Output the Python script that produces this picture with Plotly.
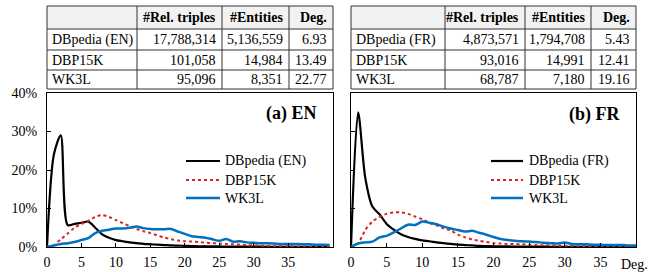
import plotly.graph_objects as go

W, H = 654, 272

# ---------- data ----------
table_header = ["", "#Rel. triples", "#Entities", "Deg."]
en_names = ["DBpedia (EN)", "DBP15K", "WK3L"]
en_triples = ["17,788,314", "101,058", "95,096"]
en_entities = ["5,136,559", "14,984", "8,351"]
en_deg = ["6.93", "13.49", "22.77"]
fr_names = ["DBpedia (FR)", "DBP15K", "WK3L"]
fr_triples = ["4,873,571", "93,016", "68,787"]
fr_entities = ["1,794,708", "14,991", "7,180"]
fr_deg = ["5.43", "12.41", "19.16"]

deg_en = list(range(0, 42))
dbpedia_en = [0, 24, 29, 5.7, 6.0, 6.3, 6.6, 5.0, 3.3, 2.4, 1.8, 1.5, 1.2, 1.0, 0.8, 0.7,
              0.6, 0.5, 0.4, 0.35, 0.3, 0.25, 0.2, 0.2, 0.15, 0.15, 0.12, 0.1, 0.1, 0.1,
              0.08, 0.08, 0.07, 0.07, 0.06, 0.06, 0.05, 0.05, 0.05, 0.05, 0.05, 0.05]
dbp15k_en = [0, 0.5, 2.0, 3.5, 5.0, 6.0, 6.8, 7.8, 8.3, 7.8, 7.0, 6.2, 5.4, 4.7, 4.1, 3.6,
             3.0, 2.5, 2.0, 1.7, 1.5, 1.4, 1.3, 1.1, 1.0, 0.9, 0.8, 0.7, 0.6, 0.5,
             0.4, 0.35, 0.3, 0.25, 0.2, 0.2, 0.15, 0.15, 0.1, 0.1, 0.1, 0.1]
wk3l_en = [0, 0.4, 0.8, 1.0, 1.3, 1.8, 2.3, 3.6, 4.2, 4.5, 4.8, 4.8, 5.0, 5.3, 4.9, 4.7,
           4.6, 4.6, 4.7, 4.0, 3.4, 2.8, 2.6, 2.4, 2.0, 1.6, 2.1, 1.4, 1.5, 1.2,
           1.1, 1.0, 1.0, 0.9, 0.8, 0.8, 0.8, 0.7, 0.7, 0.6, 0.6, 0.5]

deg_fr = list(range(0, 41))
dbpedia_fr = [0, 35, 18, 10.5, 8.5, 6.0, 4.5, 3.3, 2.6, 2.1, 1.7, 1.5, 1.2, 1.0, 0.8, 0.6,
              0.5, 0.4, 0.3, 0.25, 0.2, 0.18, 0.15, 0.12, 0.1, 0.1, 0.08, 0.08, 0.07, 0.07,
              0.06, 0.06, 0.05, 0.05, 0.05, 0.05, 0.05, 0.05, 0.05, 0.05, 0.05]
dbp15k_fr = [0, 1.0, 4.4, 6.6, 7.8, 8.6, 9.0, 9.0, 8.6, 7.9, 7.2, 6.3, 5.6, 4.8, 4.3, 3.2,
             2.5, 2.0, 1.6, 1.3, 1.0, 0.9, 0.8, 0.75, 0.7, 0.6, 0.5, 0.45, 0.4, 0.35,
             0.3, 0.25, 0.2, 0.2, 0.15, 0.15, 0.1, 0.1, 0.1, 0.1, 0.1]
wk3l_fr = [0, 0.9, 1.2, 1.4, 2.5, 2.9, 3.8, 4.8, 5.8, 5.7, 6.6, 6.3, 5.9, 5.3, 4.8, 4.4,
           4.0, 4.2, 3.7, 3.2, 2.6, 2.1, 1.8, 1.6, 1.5, 1.4, 1.3, 1.1, 1.0, 0.9,
           1.2, 0.8, 0.7, 0.7, 0.6, 0.6, 0.5, 0.5, 0.5, 0.4, 0.4]

y_ticks = [0, 10, 20, 30, 40]
y_labels = ["0%", "10%", "20%", "30%", "40%"]
x_ticks = [0, 5, 10, 15, 20, 25, 30, 35]

# ---------- styles ----------
FONT = "Liberation Serif"
BLACK = "#000000"
RED = "#e0201c"
BLUE = "#0070c0"
GRID = "#333333"


def px_x(p):
    return p / W


def px_y(p):
    return 1 - p / H


fig = go.Figure()
shapes = []
annotations = []

# ---------- tables (lines as shapes, text as annotations) ----------
ROW_Y = [6, 29, 50, 70, 89]


def add_table(names, trip, ent, deg, col_x):
    shapes.append(dict(type="rect", xref="paper", yref="paper",
                       x0=px_x(col_x[0]), x1=px_x(col_x[-1]),
                       y0=px_y(ROW_Y[1]), y1=px_y(ROW_Y[0]),
                       fillcolor="#f2f2f2", line=dict(width=0), layer="below"))
    for yy in ROW_Y:
        shapes.append(dict(type="line", xref="paper", yref="paper",
                           x0=px_x(col_x[0]), x1=px_x(col_x[-1]), y0=px_y(yy), y1=px_y(yy),
                           line=dict(color=GRID, width=1)))
    for xx in col_x:
        shapes.append(dict(type="line", xref="paper", yref="paper",
                           x0=px_x(xx), x1=px_x(xx), y0=px_y(ROW_Y[0]), y1=px_y(ROW_Y[-1]),
                           line=dict(color=GRID, width=1)))
    for c in range(1, 4):
        annotations.append(dict(text="<b>%s</b>" % table_header[c],
                                x=px_x(col_x[c + 1] - 4), y=px_y((ROW_Y[0] + ROW_Y[1]) / 2),
                                xref="paper", yref="paper", xanchor="right", yanchor="middle",
                                showarrow=False, font=dict(family=FONT, size=14, color="black")))
    cols = [names, trip, ent, deg]
    for r in range(3):
        ymid = px_y((ROW_Y[r + 1] + ROW_Y[r + 2]) / 2)
        annotations.append(dict(text=cols[0][r], x=px_x(col_x[0] + 3), y=ymid,
                                xref="paper", yref="paper", xanchor="left", yanchor="middle",
                                showarrow=False, font=dict(family=FONT, size=14, color="black")))
        for c in range(1, 4):
            annotations.append(dict(text=cols[c][r], x=px_x(col_x[c + 1] - 4), y=ymid,
                                    xref="paper", yref="paper", xanchor="right", yanchor="middle",
                                    showarrow=False, font=dict(family=FONT, size=14, color="black")))


add_table(en_names, en_triples, en_entities, en_deg, [47, 137, 222, 289, 333])
add_table(fr_names, fr_triples, fr_entities, fr_deg, [351, 445, 525, 591, 636])

# ---------- curves ----------
series = [
    (en_names[0], dbpedia_en, dbpedia_fr, fr_names[0], dict(color=BLACK, width=2.2)),
    ("DBP15K", dbp15k_en, dbp15k_fr, "DBP15K", dict(color=RED, width=2, dash="dot")),
    ("WK3L", wk3l_en, wk3l_fr, "WK3L", dict(color=BLUE, width=2.5)),
]

LEG_Y = [161, 180, 198]
for i, (name_en, v_en, v_fr, name_fr, line) in enumerate(series):
    fig.add_trace(go.Scatter(x=deg_en, y=v_en, name=name_en, mode="lines",
                             line=dict(shape="spline", smoothing=0.8, **line),
                             xaxis="x", yaxis="y", showlegend=False))
    fig.add_trace(go.Scatter(x=deg_fr, y=v_fr, name=name_fr, mode="lines",
                             line=dict(shape="spline", smoothing=0.8, **line),
                             xaxis="x2", yaxis="y2", showlegend=False))
    for lx0, lx1, tx, nm in [(186, 220, 223, name_en), (491, 523, 527, name_fr)]:
        shapes.append(dict(type="line", xref="paper", yref="paper",
                           x0=px_x(lx0), x1=px_x(lx1), y0=px_y(LEG_Y[i]), y1=px_y(LEG_Y[i]),
                           line=dict(color=line["color"], width=line["width"],
                                     dash=line.get("dash", "solid"))))
        annotations.append(dict(text=nm, x=px_x(tx), y=px_y(LEG_Y[i]), xref="paper",
                                yref="paper", xanchor="left", yanchor="middle",
                                showarrow=False, font=dict(family=FONT, size=14, color="black")))

axis_common = dict(showgrid=False, zeroline=False, showline=True, mirror=True,
                   linecolor="black", linewidth=1.3, ticks="inside", tickcolor="black",
                   ticklen=4, tickwidth=1, automargin=False,
                   tickfont=dict(family=FONT, size=14, color="black"))

y_dom = [px_y(247), px_y(93)]

annotations += [
    dict(text="<b>(a) EN</b>", x=px_x(319), y=px_y(113), xref="paper", yref="paper",
         xanchor="right", yanchor="middle", showarrow=False,
         font=dict(family=FONT, size=18, color="black")),
    dict(text="<b>(b) FR</b>", x=px_x(622), y=px_y(114), xref="paper", yref="paper",
         xanchor="right", yanchor="middle", showarrow=False,
         font=dict(family=FONT, size=18, color="black")),
    dict(text="Deg.", x=px_x(619), y=px_y(264), xref="paper", yref="paper",
         xanchor="left", yanchor="middle", showarrow=False,
         font=dict(family=FONT, size=14, color="black")),
]

fig.update_layout(
    width=W, height=H, autosize=False,
    margin=dict(l=0, r=0, t=0, b=0),
    font=dict(family=FONT, size=14, color="black"),
    paper_bgcolor="white", plot_bgcolor="white",
    showlegend=False,
    xaxis=dict(domain=[px_x(47), px_x(333)], range=[0, 41.5], tickvals=x_ticks,
               anchor="y", ticklabelstandoff=2, **axis_common),
    yaxis=dict(domain=y_dom, range=[0, 40], tickvals=y_ticks, ticktext=y_labels,
               anchor="x", ticklabelstandoff=6, **axis_common),
    xaxis2=dict(domain=[px_x(351), px_x(636)], range=[0, 40], tickvals=x_ticks,
                anchor="y2", ticklabelstandoff=2, **axis_common),
    yaxis2=dict(domain=y_dom, range=[0, 40], tickvals=y_ticks, showticklabels=False,
                anchor="x2", **axis_common),
    shapes=shapes,
    annotations=annotations,
)

fig.write_html("out.html", config={"displayModeBar": False},
               post_script="document.body.style.margin='0px';")
